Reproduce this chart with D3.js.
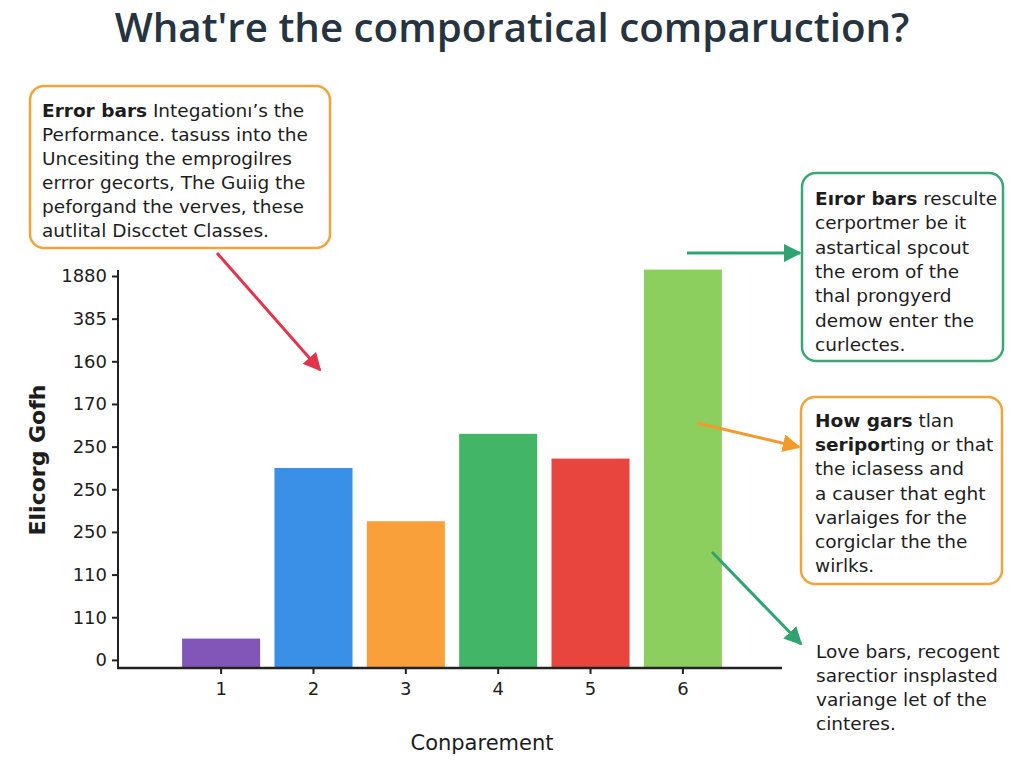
<!DOCTYPE html>
<html lang="en">
<head>
  <meta charset="UTF-8">
  <title>What're the comporatical comparuction?</title>
  <style>
    body { margin: 0; background: #fff; }
    svg { display: block; }
    text { font-family: "DejaVu Sans", "Open Sans", sans-serif; fill: #1d1d1d; }
    .title { font-family: "Open Sans", "Noto Sans", sans-serif; font-weight: 600; fill: #263441; }
    .note { font-size: 18.5px; }
    .tick text { font-size: 18px; font-family: "DejaVu Sans", sans-serif; }
  </style>
</head>
<body>
  <svg width="1024" height="768"></svg>
  <script src="https://d3js.org/d3.v7.min.js"></script>
  <script>
    // chart data
    const categories = ["1", "2", "3", "4", "5", "6"];
    const values = [0.5, 4.5, 3.25, 5.3, 4.72, 9.15];
    const barColors = ["#8256b9", "#3a8fe6", "#f9a03b", "#43b566", "#e8453f", "#8ccf5f"];
    const yTickLabels = ["0", "110", "110", "250", "250", "250", "170", "160", "385", "1880"];

    const titleText = "What're the comporatical comparuction?";
    const xLabel = "Conparement";
    const yLabel = "Elicorg Gofh";

    // annotation texts, [text, bold] segments per line
    const noteTopLeft = [
      [["Error bars", true], [" Integationı’s the", false]],
      [["Performance. tasuss into the", false]],
      [["Uncesiting the emprogiIres", false]],
      [["errror gecorts, The Guiig the", false]],
      [["peforgand the verves, these", false]],
      [["autlital Discctet Classes.", false]]
    ];
    const noteRight1 = [
      [["Eıror bars", true], [" resculte", false]],
      [["cerportmer be it", false]],
      [["astartical spcout", false]],
      [["the erom of the", false]],
      [["thal prongyerd", false]],
      [["demow enter the", false]],
      [["curlectes.", false]]
    ];
    const noteRight2 = [
      [["How gars", true], [" tlan", false]],
      [["seripor", true], ["ting or that", false]],
      [["the iclasess and", false]],
      [["a causer that eght", false]],
      [["varlaiges for the", false]],
      [["corgiclar the the", false]],
      [["wirlks.", false]]
    ];
    const noteRight3 = [
      [["Love bars, recogent", false]],
      [["sarectior insplasted", false]],
      [["variange let of the", false]],
      [["cinteres.", false]]
    ];

    const svg = d3.select("svg");

    // scales
    const x = d3.scaleBand()
      .domain(categories)
      .range([175, 729])
      .paddingInner(0.155)
      .paddingOuter(0.077);

    const y = d3.scaleLinear()
      .domain([-0.19, 9])
      .range([668, 276]);

    // title, sized to the reference width
    const title = svg.append("text")
      .attr("class", "title")
      .attr("x", 512)
      .attr("y", 42)
      .attr("text-anchor", "middle")
      .style("font-size", "36px")
      .text(titleText);
    const tw = title.node().getComputedTextLength();
    title.style("font-size", (36 * 795 / tw) + "px");

    // bars
    svg.append("g")
      .selectAll("rect")
      .data(values)
      .join("rect")
      .attr("x", (d, i) => x(categories[i]))
      .attr("y", d => y(d))
      .attr("width", x.bandwidth())
      .attr("height", d => y(-0.19) - y(d))
      .attr("fill", (d, i) => barColors[i]);

    // y axis
    const yAxis = d3.axisLeft(y)
      .tickValues(d3.range(yTickLabels.length))
      .tickFormat((d, i) => yTickLabels[i])
      .tickSize(6)
      .tickPadding(5);

    const yg = svg.append("g")
      .attr("transform", "translate(118,0)")
      .call(yAxis);
    yg.select(".domain").remove();
    yg.selectAll(".tick line").attr("stroke", "#222").attr("stroke-width", 2);
    yg.append("line")
      .attr("x1", 0).attr("x2", 0)
      .attr("y1", 270).attr("y2", 669)
      .attr("stroke", "#222").attr("stroke-width", 2);

    // x axis
    const xAxis = d3.axisBottom(x).tickSize(6).tickPadding(8);
    const xg = svg.append("g")
      .attr("transform", "translate(0,668)")
      .call(xAxis);
    xg.select(".domain").remove();
    xg.selectAll(".tick line").attr("stroke", "#222").attr("stroke-width", 2);
    xg.append("line")
      .attr("x1", 117).attr("x2", 782)
      .attr("y1", 0).attr("y2", 0)
      .attr("stroke", "#222").attr("stroke-width", 2.5);

    // axis labels
    svg.append("text")
      .attr("x", 482)
      .attr("y", 750)
      .attr("text-anchor", "middle")
      .style("font-size", "21px")
      .text(xLabel);

    svg.append("text")
      .attr("transform", "translate(45,460) rotate(-90)")
      .attr("text-anchor", "middle")
      .style("font-size", "22px")
      .style("font-weight", 700)
      .text(yLabel);

    // arrow markers
    const defs = svg.append("defs");
    function marker(id, color) {
      defs.append("marker")
        .attr("id", id)
        .attr("viewBox", "0 0 10 10")
        .attr("refX", 9).attr("refY", 5)
        .attr("markerWidth", 6).attr("markerHeight", 6)
        .attr("markerUnits", "strokeWidth")
        .attr("orient", "auto")
        .append("path")
        .attr("d", "M0,0 L10,5 L0,10 z")
        .attr("fill", color);
    }
    marker("arRed", "#e2344c");
    marker("arGreen", "#2fa371");
    marker("arOrange", "#f39a2b");

    function arrow(x1, y1, x2, y2, color, id) {
      svg.append("line")
        .attr("x1", x1).attr("y1", y1)
        .attr("x2", x2).attr("y2", y2)
        .attr("stroke", color)
        .attr("stroke-width", 3)
        .attr("marker-end", `url(#${id})`);
    }

    // annotation boxes
    function note(lines, bx, by, bw, bh, color, tx, ty0, lh) {
      if (color) {
        svg.append("rect")
          .attr("x", bx).attr("y", by)
          .attr("width", bw).attr("height", bh)
          .attr("rx", 14)
          .attr("fill", "#fff")
          .attr("stroke", color)
          .attr("stroke-width", 2.5);
      }
      const t = svg.append("text").attr("class", "note");
      lines.forEach((segs, i) => {
        segs.forEach((s, j) => {
          const ts = t.append("tspan").text(s[0]);
          if (j === 0) ts.attr("x", tx).attr("y", ty0 + i * lh);
          if (s[1]) ts.style("font-weight", 700);
        });
      });
    }

    arrow(217, 253, 320, 370, "#e2344c", "arRed");
    arrow(687, 253, 800, 253, "#2fa371", "arGreen");
    arrow(697, 423, 799, 447, "#f39a2b", "arOrange");
    arrow(712, 552, 801, 644, "#2fa371", "arGreen");

    note(noteTopLeft, 30, 86, 300, 162, "#f0a43c", 42, 117, 24);
    note(noteRight1, 802, 173, 201, 188, "#3aa876", 815, 205, 24.3);
    note(noteRight2, 801, 397, 201, 187, "#f0a43c", 815, 427, 24.2);
    note(noteRight3, 0, 0, 0, 0, null, 816, 658, 24);
  </script>
</body>
</html>
